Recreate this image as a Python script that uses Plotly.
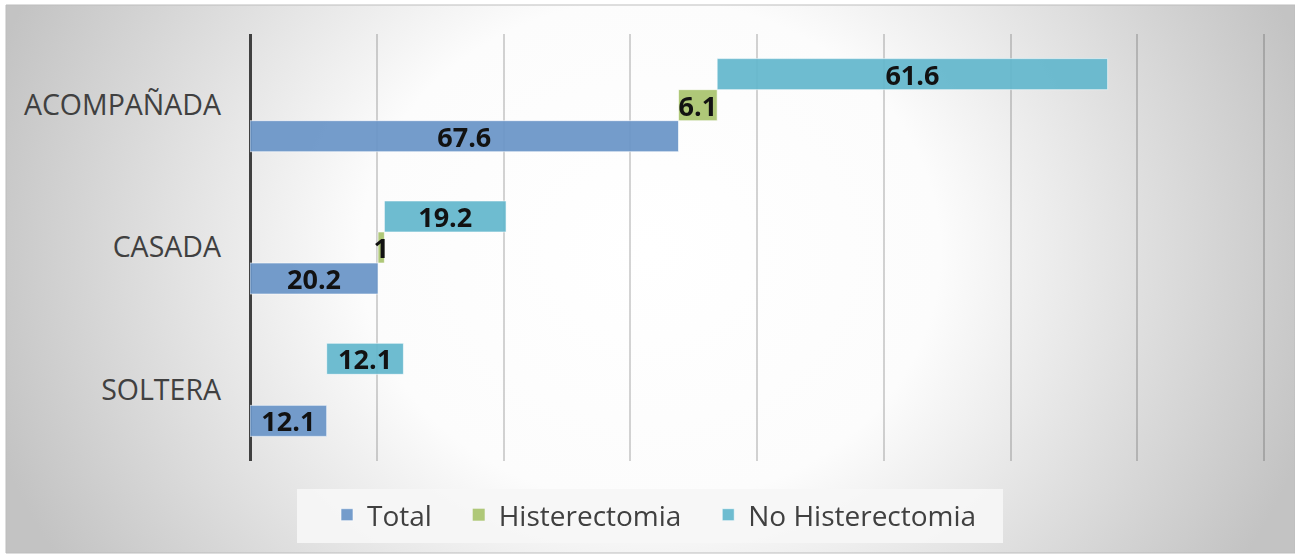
import base64
import plotly.graph_objects as go

# Estado civil (de abajo hacia arriba en el eje)
categorias = ["SOLTERA", "CASADA", "ACOMPAÑADA"]
total = [12.1, 20.2, 67.6]
histerectomia = [0, 1, 6.1]
no_histerectomia = [12.1, 19.2, 61.6]
series = ["Total", "Histerectomia", "No Histerectomia"]

X_MAX = 160.6  # un poco más de 160 para que se dibuje la última línea de rejilla
PX_POR_UNIDAD = 6.3375

W, H = 1295, 554
M_L, M_T, M_B = 250, 34, 93
PW = round(PX_POR_UNIDAD * X_MAX)
M_R = W - M_L - PW
PH = H - M_T - M_B

FONT = "Open Sans"
COL_TOTAL = "#6a95c8"
COL_HIST = "#a9c46e"
COL_NOHIST = "#63b7cd"

BAR_W = 0.218
PAD = "\u00a0" * 3  # separación entre entradas de la leyenda


def etiquetas(vals):
    return [f"{v:g}" if v else "" for v in vals]


def borde(vals):
    # sin contorno en las barras de valor cero
    return dict(color="rgba(255,255,255,0.6)", width=[1 if v else 0 for v in vals])


base_hist = list(total)
base_nohist = [t + h for t, h in zip(total, histerectomia)]

comun = dict(
    orientation="h",
    width=BAR_W,
    textposition="inside",
    insidetextanchor="middle",
    textangle=0,
    constraintext="none",
    textfont=dict(family=FONT, size=27, color="black", weight="bold"),
    opacity=0.93,
    hoverinfo="skip",
    cliponaxis=False,
)

fig = go.Figure()
fig.add_trace(go.Bar(
    name=series[0] + PAD, y=categorias, x=total, base=[0] * len(total),
    offset=-1.5 * BAR_W, text=etiquetas(total),
    marker=dict(color=COL_TOTAL, line=borde(total)), **comun,
))
fig.add_trace(go.Bar(
    name=series[1] + PAD, y=categorias, x=histerectomia, base=base_hist,
    offset=-0.5 * BAR_W, text=etiquetas(histerectomia),
    marker=dict(color=COL_HIST, line=borde(histerectomia)), **comun,
))
fig.add_trace(go.Bar(
    name=series[2], y=categorias, x=no_histerectomia, base=base_nohist,
    offset=0.5 * BAR_W, text=etiquetas(no_histerectomia),
    marker=dict(color=COL_NOHIST, line=borde(no_histerectomia)), **comun,
))


def px_x(p):
    return (p - M_L) / PW


def px_y(p):
    return (H - M_B - p) / PH


# Fondo con degradado radial gris
fx0, fy0, fx1, fy1 = 6, 5, W, H - 1
fw, fh = fx1 - fx0, fy1 - fy0
svg = f"""<svg xmlns='http://www.w3.org/2000/svg' width='{fw}' height='{fh}' viewBox='0 0 {fw} {fh}' preserveAspectRatio='none'>
<defs><radialGradient id='g' gradientUnits='userSpaceOnUse' cx='0' cy='0' r='1'
 gradientTransform='translate({fw*0.5:.1f},{fh*0.45:.1f}) scale(690,600)'>
<stop offset='0' stop-color='#ffffff'/>
<stop offset='0.42' stop-color='#fcfcfc'/>
<stop offset='1' stop-color='#c3c3c3'/>
</radialGradient></defs>
<rect x='0' y='0' width='{fw}' height='{fh}' fill='url(#g)'/>
</svg>"""
src = "data:image/svg+xml;base64," + base64.b64encode(svg.encode()).decode()

fig.add_layout_image(dict(
    source=src, xref="paper", yref="paper",
    x=px_x(fx0), y=px_y(fy0), sizex=fw / PW, sizey=fh / PH,
    xanchor="left", yanchor="top", sizing="stretch", layer="below",
))
fig.add_shape(
    type="rect", xref="paper", yref="paper",
    x0=px_x(fx0), x1=px_x(fx1), y0=px_y(fy1), y1=px_y(fy0),
    line=dict(color="#bdbdbd", width=1), layer="below",
)
# Caja de la leyenda
fig.add_shape(
    type="rect", xref="paper", yref="paper",
    x0=px_x(297), x1=px_x(1003), y0=px_y(543), y1=px_y(489),
    fillcolor="rgba(246,246,246,0.92)", line=dict(width=0), layer="below",
)

fig.update_layout(
    width=W, height=H,
    margin=dict(l=M_L, r=M_R, t=M_T, b=M_B),
    paper_bgcolor="white",
    plot_bgcolor="rgba(0,0,0,0)",
    barmode="overlay",
    font=dict(family=FONT, color="#404040"),
    showlegend=True,
    legend=dict(
        orientation="h", traceorder="normal",
        xref="container", yref="container",
        x=327 / W, xanchor="left", y=1 - 490 / H, yanchor="top",
        bgcolor="rgba(0,0,0,0)",
        font=dict(family=FONT, size=28, color="#404040"),
        itemclick=False,
    ),
    xaxis=dict(
        range=[0, X_MAX], dtick=20, showticklabels=False,
        showgrid=True, gridcolor="rgba(0,0,0,0.17)", gridwidth=1.5,
        zeroline=True, zerolinecolor="#404040", zerolinewidth=3,
        fixedrange=True,
    ),
    yaxis=dict(
        type="category", categoryorder="array", categoryarray=categorias,
        range=[-0.5, 2.5], showgrid=False, zeroline=False, ticks="",
        ticklabelstandoff=28,
        tickfont=dict(family=FONT, size=28.5, color="#404040"),
        fixedrange=True,
    ),
)

fig.write_html("out.html")
